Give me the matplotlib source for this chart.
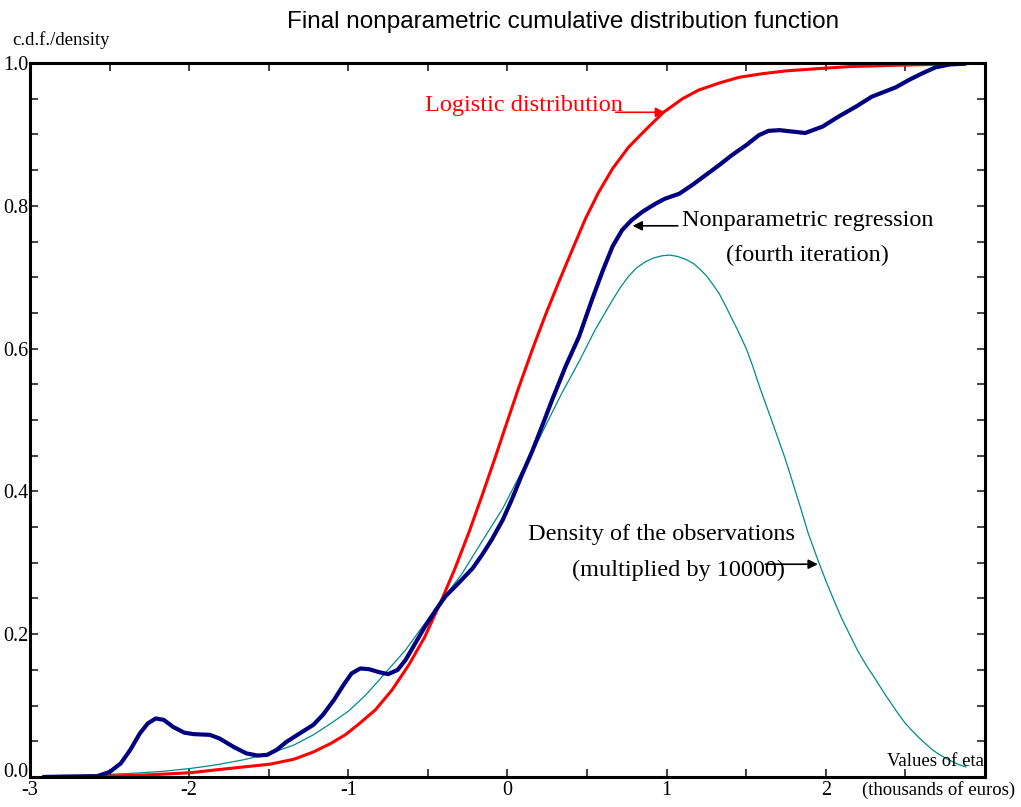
import matplotlib

matplotlib.use("Agg")
import matplotlib.pyplot as plt
import matplotlib.transforms as mtransforms
from matplotlib.ticker import FixedLocator, MultipleLocator

# values
nonparam_x = [-2.91, -2.58, -2.50, -2.43, -2.37, -2.31, -2.26, -2.21, -2.16,
              -2.10, -2.03, -1.97, -1.87, -1.81, -1.72, -1.64, -1.57, -1.51,
              -1.45, -1.39, -1.32, -1.22, -1.16, -1.09, -1.03, -0.98, -0.925,
              -0.87, -0.81, -0.75, -0.69, -0.64, -0.58, -0.52, -0.45, -0.39,
              -0.31, -0.22, -0.16, -0.10, -0.03, 0.03, 0.09, 0.155, 0.22,
              0.28, 0.365, 0.45, 0.53, 0.60, 0.66, 0.72, 0.78, 0.85, 0.93,
              0.99, 1.08, 1.16, 1.245, 1.33, 1.41, 1.50, 1.58, 1.64, 1.71,
              1.79, 1.87, 1.98, 2.08, 2.19, 2.29, 2.36, 2.44, 2.52, 2.61,
              2.69, 2.78, 2.87]
nonparam_y = [0.000, 0.001, 0.007, 0.019, 0.038, 0.061, 0.075, 0.082, 0.080,
              0.070, 0.062, 0.060, 0.059, 0.054, 0.042, 0.033, 0.030, 0.031,
              0.038, 0.049, 0.059, 0.073, 0.087, 0.108, 0.129, 0.145, 0.152,
              0.151, 0.147, 0.144, 0.150, 0.164, 0.187, 0.210, 0.234, 0.253,
              0.271, 0.292, 0.311, 0.332, 0.360, 0.390, 0.423, 0.456, 0.493,
              0.528, 0.575, 0.617, 0.668, 0.710, 0.743, 0.766, 0.780, 0.792,
              0.803, 0.810, 0.817, 0.829, 0.843, 0.857, 0.871, 0.885, 0.899,
              0.905, 0.906, 0.904, 0.902, 0.911, 0.925, 0.939, 0.953, 0.959,
              0.966, 0.976, 0.986, 0.994, 0.998, 0.999]

logistic_x = [-2.91, -2.58, -2.37, -2.16, -1.99, -1.83, -1.66, -1.49, -1.34,
              -1.22, -1.11, -1.02, -0.935, -0.83, -0.725, -0.62, -0.52, -0.41,
              -0.33, -0.24, -0.16, -0.075, 0.00, 0.07, 0.155, 0.24, 0.32,
              0.41, 0.49, 0.57, 0.66, 0.76, 0.87, 0.98, 1.10, 1.20, 1.33,
              1.455, 1.60, 1.75, 1.94, 2.15, 2.46, 2.87]
logistic_y = [0.000, 0.001, 0.002, 0.004, 0.006, 0.010, 0.014, 0.018, 0.025,
              0.035, 0.047, 0.059, 0.074, 0.094, 0.122, 0.157, 0.196, 0.250,
              0.292, 0.344, 0.394, 0.449, 0.499, 0.545, 0.598, 0.648, 0.692,
              0.740, 0.782, 0.818, 0.852, 0.882, 0.907, 0.931, 0.950, 0.962,
              0.972, 0.980, 0.985, 0.989, 0.992, 0.995, 0.997, 0.999]

density_x = [-2.91, -2.58, -2.37, -2.16, -1.99, -1.83, -1.66, -1.49, -1.34,
             -1.22, -1.11, -1.00, -0.89, -0.77, -0.64, -0.52, -0.41, -0.285,
             -0.16, -0.03, 0.09, 0.20, 0.25, 0.34, 0.45, 0.55, 0.66, 0.71,
             0.76, 0.81, 0.87, 0.92, 0.97, 1.02, 1.07, 1.12, 1.17, 1.21,
             1.25, 1.29, 1.33, 1.37, 1.41, 1.45, 1.50, 1.54, 1.58, 1.62,
             1.67, 1.74, 1.79, 1.84, 1.89, 1.95, 2.00, 2.05, 2.10, 2.16,
             2.20, 2.25, 2.30, 2.34, 2.38, 2.42, 2.46, 2.50, 2.55, 2.59,
             2.63, 2.67, 2.71, 2.755, 2.80, 2.84, 2.88]
density_y = [0.002, 0.003, 0.005, 0.008, 0.012, 0.017, 0.024, 0.033, 0.045,
             0.059, 0.075, 0.092, 0.115, 0.145, 0.178, 0.215, 0.248, 0.285,
             0.330, 0.376, 0.428, 0.474, 0.497, 0.537, 0.582, 0.626, 0.668,
             0.686, 0.701, 0.713, 0.722, 0.727, 0.730, 0.731, 0.729, 0.725,
             0.719, 0.711, 0.702, 0.690, 0.677, 0.660, 0.642, 0.624, 0.600,
             0.576, 0.549, 0.524, 0.493, 0.449, 0.414, 0.378, 0.341, 0.304,
             0.275, 0.248, 0.222, 0.195, 0.177, 0.158, 0.141, 0.127, 0.113,
             0.100, 0.087, 0.075, 0.063, 0.054, 0.046, 0.038, 0.032, 0.026,
             0.021, 0.017, 0.014]

x_ticks = [-3, -2, -1, 0, 1, 2]
x_labels = ["-3", "-2", "-1", "0", "1", "2"]
y_ticks = [0.0, 0.2, 0.4, 0.6, 0.8, 1.0]
y_labels = ["0.0", "0.2", "0.4", "0.6", "0.8", "1.0"]

SERIF = "Liberation Serif"
SANS = "Liberation Sans"

fig = plt.figure(figsize=(10.21, 8.07), dpi=100)
ax = fig.add_axes([0.0294, 0.0372, 0.9353, 0.8847])

ax.plot(density_x, density_y, color="#008b8b", lw=0.9)
ax.plot(logistic_x, logistic_y, color="#ff0000", lw=2.2,
        solid_joinstyle="round")
ax.plot(nonparam_x, nonparam_y, color="#000080", lw=3.0,
        solid_joinstyle="round")

ax.set_xlim(-3, 3)
ax.set_ylim(0, 1)
ax.xaxis.set_major_locator(FixedLocator(x_ticks))
ax.set_xticklabels(x_labels)
ax.xaxis.set_minor_locator(MultipleLocator(0.5))
ax.yaxis.set_major_locator(FixedLocator(y_ticks))
ax.set_yticklabels(y_labels)
ax.yaxis.set_minor_locator(MultipleLocator(0.05))
ax.tick_params(which="both", direction="in", length=6, width=1.2,
               top=True, right=True, color="#222")
ax.tick_params(axis="y", which="major", pad=1)
ax.tick_params(axis="x", which="major", pad=3)
for lab in ax.get_xticklabels() + ax.get_yticklabels():
    lab.set_fontfamily(SERIF)
    lab.set_fontsize(14.5)
# the "0.0" label sits a little above its tick, clear of "-3"
lift = mtransforms.ScaledTranslation(0, 5 / 72, fig.dpi_scale_trans)
zero_lab = ax.yaxis.get_major_ticks()[0].label1
zero_lab.set_transform(zero_lab.get_transform() + lift)
for s in ax.spines.values():
    s.set_linewidth(2.2)

# annotations
ax.text(-0.516, 0.940, "Logistic distribution", color="#ff0000",
        family=SERIF, fontsize=17.5, ha="left", va="center")
ax.annotate("", xy=(0.99, 0.931), xytext=(0.68, 0.931),
            arrowprops=dict(arrowstyle="-|>", color="#ff0000", lw=1.2,
                            mutation_scale=14, shrinkA=0, shrinkB=0))

ax.text(1.884, 0.779, "Nonparametric regression", color="black",
        family=SERIF, fontsize=17.5, ha="center", va="center")
ax.text(1.884, 0.730, "(fourth iteration)", color="black",
        family=SERIF, fontsize=17.5, ha="center", va="center")
ax.annotate("", xy=(0.786, 0.772), xytext=(1.07, 0.772),
            arrowprops=dict(arrowstyle="-|>", color="black", lw=1.2,
                            mutation_scale=14, shrinkA=0, shrinkB=0))

ax.text(0.965, 0.339, "Density of the observations", color="black",
        family=SERIF, fontsize=17.5, ha="center", va="center")
ax.text(1.075, 0.289, "(multiplied by 10000)", color="black",
        family=SERIF, fontsize=17.5, ha="center", va="center")
ax.annotate("", xy=(1.95, 0.298), xytext=(1.62, 0.298),
            arrowprops=dict(arrowstyle="-|>", color="black", lw=1.2,
                            mutation_scale=14, shrinkA=0, shrinkB=0))

ax.text(2.994, 0.021, "Values of eta", family=SERIF, fontsize=13.5,
        ha="right", va="center")
fig.text(0.919, 0.021, "(thousands of euros)", family=SERIF, fontsize=13.5,
         ha="center", va="center")
fig.text(0.0118, 0.950, "c.d.f./density", family=SERIF, fontsize=13.5,
         ha="left", va="center")
fig.text(0.551, 0.973, "Final nonparametric cumulative distribution function",
         family=SANS, fontsize=17.5, ha="center", va="center")

fig.savefig("out.png", dpi=100)
